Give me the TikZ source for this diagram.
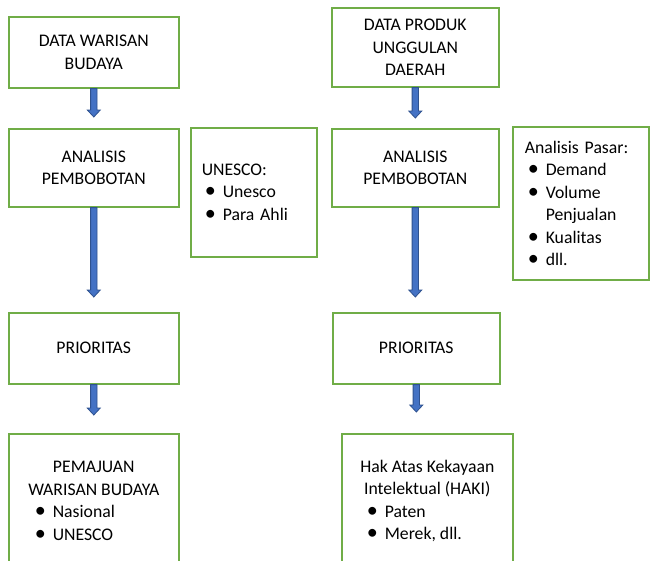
\documentclass[tikz,border=0pt]{standalone}
\usepackage{fontspec}
\setmainfont{Carlito}
\usetikzlibrary{calc}
\definecolor{boxgreen}{HTML}{70AD47}
\definecolor{arrowfill}{HTML}{4472C4}
\definecolor{arrowedge}{HTML}{2F528F}
\newcommand\blt{\hspace*{3pt}\makebox[18pt][l]{\scalebox{1.25}{\textbullet}}}
\newcommand\boxfont{\fontsize{17.7}{22.5}\selectfont}
\tikzset{
  box/.style={draw=boxgreen, line width=1.6pt, anchor=north west, inner sep=0pt,
    align=center, font=\boxfont},
  listbox/.style={box, align=left},
  blockarrow/.style={draw=arrowedge, fill=arrowfill, line width=0.8pt,
    to path={let \p1=(\tikztostart), \p2=(\tikztotarget) in
      (\x1-3.2pt,\y1) -- (\x1-3.2pt,\y2+7pt) -- (\x1-6.5pt,\y2+7pt) -- (\x1,\y2)
      -- (\x1+6.5pt,\y2+7pt) -- (\x1+3.2pt,\y2+7pt) -- (\x1+3.2pt,\y1) -- cycle}}
}
\begin{document}
\begin{tikzpicture}[x=1pt,y=-1pt]
\useasboundingbox (0,0) rectangle (650,560);
\clip (0,0) rectangle (650,560);
\fill[white] (0,0) rectangle (650,560);
% left column
\node[box, minimum width=170pt, minimum height=71pt] (dwb) at (8,16) {DATA WARISAN\\BUDAYA};
\node[box, minimum width=170pt, minimum height=78pt] (apl) at (8,128) {ANALISIS\\PEMBOBOTAN};
\node[listbox, inner xsep=11pt, text width=104pt, minimum height=129pt] (unesco) at (190,127)
  {UNESCO:\\\blt Unesco\\\blt Para Ahli};
\node[box, minimum width=170pt, minimum height=71pt] (ppl) at (8,312) {PRIORITAS};
\node[box, minimum width=170pt, minimum height=134pt] (pwb) at (8,433)
  {PEMAJUAN\\WARISAN BUDAYA\\\makebox[124pt][l]{\blt Nasional}\\\makebox[124pt][l]{\blt UNESCO}};
% right column
\node[box, minimum width=167pt, minimum height=79pt] (dpu) at (331,7) {DATA PRODUK\\UNGGULAN\\DAERAH};
\node[box, minimum width=167pt, minimum height=78pt] (apr) at (331,128) {ANALISIS\\PEMBOBOTAN};
\node[listbox, inner xsep=12pt, text width=112pt, minimum height=153pt] (pasar) at (512,126)
  {Analisis Pasar:\\\blt Demand\\\blt Volume\\\hspace*{21pt}Penjualan\\\blt Kualitas\\\blt dll.};
\node[box, minimum width=167pt, minimum height=71pt] (ppr) at (332,312) {PRIORITAS};
\node[box, minimum width=171pt, minimum height=134pt] (haki) at (341,433)
  {Hak Atas Kekayaan\\Intelektual (HAKI)\\\makebox[127pt][l]{\blt Paten}\\\makebox[127pt][l]{\blt Merek, dll.}};
% arrow end points
\coordinate (t1) at ($(apl.north)+(0,-11)$);
\coordinate (t2) at ($(ppl.north)+(0,-15)$);
\coordinate (t3) at ($(pwb.north)+(0,-18)$);
\coordinate (t4) at ($(apr.north)+(0,-10)$);
\coordinate (t5) at ($(ppr.north)+(0,-15)$);
\coordinate (t6) at ($(haki.north)+(0,-21)$);
\path[blockarrow] (dwb.south) to (t1);
\path[blockarrow] (apl.south) to (t2);
\path[blockarrow] (ppl.south) to (t3);
\path[blockarrow] (dpu.south) to (t4);
\path[blockarrow] (apr.south) to (t5);
\path[blockarrow] (ppr.south) to (t6);
\end{tikzpicture}
\end{document}
